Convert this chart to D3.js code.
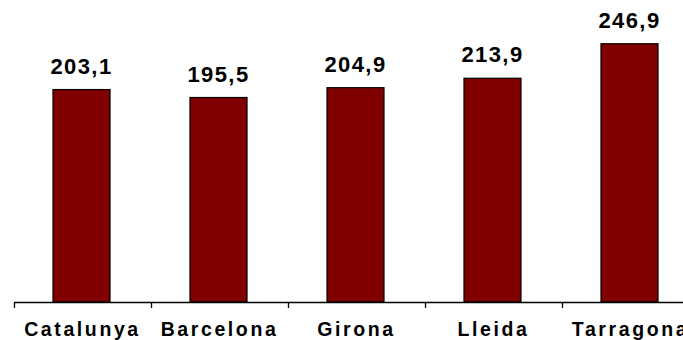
<!DOCTYPE html>
<html>
<head>
<meta charset="utf-8">
<script src="https://cdn.jsdelivr.net/npm/d3@7/dist/d3.min.js"></script>
<style>
  html, body { margin: 0; padding: 0; background: #ffffff; }
  svg { display: block; }
  text { font-family: "Liberation Sans", Arial, sans-serif; font-weight: bold; fill: #000; }
</style>
</head>
<body>
<svg id="chart" width="683" height="340"></svg>
<script>
// Regions and their values
const categories = ["Catalunya", "Barcelona", "Girona", "Lleida", "Tarragona"];
const values = [203.1, 195.5, 204.9, 213.9, 246.9];
const valueLabels = ["203,1", "195,5", "204,9", "213,9", "246,9"];

const svg = d3.select("#chart");
const baseY = 302;

const x = d3.scaleBand()
  .domain(categories)
  .range([14, 699])
  .padding(0);

const y = d3.scaleLinear()
  .domain([0, 250])
  .range([baseY, 40.5]);

const barW = 57;

// Bars
svg.append("g")
  .selectAll("rect")
  .data(values)
  .join("rect")
  .attr("x", (d, i) => x(categories[i]) + x.bandwidth() / 2 - 1 - barW / 2)
  .attr("y", d => y(d))
  .attr("width", barW)
  .attr("height", d => baseY - y(d))
  .attr("fill", "#800000")
  .attr("stroke", "#000")
  .attr("stroke-width", 1.2);

// Value labels above bars
svg.append("g")
  .selectAll("text")
  .data(values)
  .join("text")
  .attr("x", (d, i) => x(categories[i]) + x.bandwidth() / 2 - 1)
  .attr("y", d => y(d) - 16)
  .attr("text-anchor", "middle")
  .attr("font-size", 22)
  .attr("letter-spacing", 1.4)
  .text((d, i) => valueLabels[i]);

// Category axis: baseline with tick marks at band edges
const axis = svg.append("g");
axis.append("line")
  .attr("x1", 14).attr("x2", 683)
  .attr("y1", baseY + 0.5).attr("y2", baseY + 0.5)
  .attr("stroke", "#000").attr("stroke-width", 1.3);

axis.selectAll("line.tick")
  .data(categories)
  .join("line")
  .attr("class", "tick")
  .attr("x1", d => x(d) + 0.5).attr("x2", d => x(d) + 0.5)
  .attr("y1", baseY).attr("y2", baseY + 6)
  .attr("stroke", "#000").attr("stroke-width", 1.3);

axis.selectAll("text")
  .data(categories)
  .join("text")
  .attr("x", d => x(d) + x.bandwidth() / 2)
  .attr("y", 336)
  .attr("text-anchor", "middle")
  .attr("font-size", 19.5)
  .attr("letter-spacing", 2.6)
  .text(d => d);
</script>
</body>
</html>
